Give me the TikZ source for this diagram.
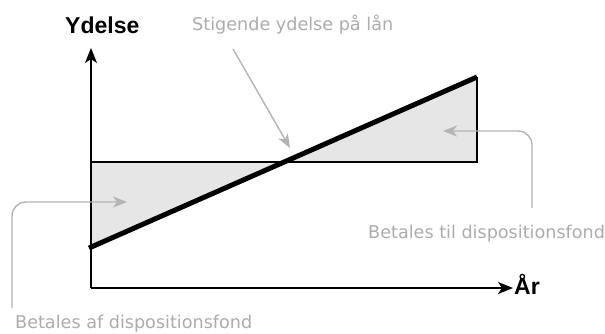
\documentclass[tikz,border=0pt]{standalone}
\usepackage{fontspec}
\setmainfont{Liberation Sans}
\newfontfamily\notefont{DejaVu Sans}
\usetikzlibrary{arrows.meta}
\definecolor{notegray}{RGB}{172,172,172}
\definecolor{arrowgray}{RGB}{180,180,180}
\definecolor{areagray}{RGB}{230,230,230}
\tikzset{
  axislabel/.style={inner sep=0pt, font=\fontsize{23}{25}\selectfont\bfseries, text=black},
  notelabel/.style={inner sep=0pt, font=\notefont\fontsize{17.6}{20}\selectfont, text=notegray},
  axisline/.style={line width=1.5pt, -{Stealth[length=15pt,width=12pt,inset=4pt]}},
  noteline/.style={draw=arrowgray, line width=1.4pt, rounded corners=14pt, -{Stealth[length=14pt,width=11pt,inset=4pt]}},
  boxline/.style={line width=1.5pt},
}
\begin{document}
\begin{tikzpicture}[x=1pt,y=-1pt]
\useasboundingbox (0,0) rectangle (605,333);
% shaded areas
\fill[areagray] (91,162) -- (284,162) -- (91,247) -- cycle;
\fill[areagray] (284,162) -- (477,77) -- (477,162) -- cycle;
% coordinates
\coordinate (o) at (91,288);
\coordinate (ytip) at (91,48);
\coordinate (xtip) at (513,288);
\coordinate (rl) at (91,162);
\coordinate (rr) at (477,162);
\coordinate (rt) at (477,77);
\coordinate (ls) at (89,248);
\coordinate (le) at (477,77);
% rectangle lines
\draw[boxline] (rl) -- (rr) -- (rt);
% axes
\draw[axisline] (o) -- (ytip);
\draw[axisline] (o) -- (xtip);
% thick line
\draw[line width=5pt] (ls) -- (le);
% labels
\node[axislabel, anchor=base west] (ylab) at (65,33) {Ydelse};
\node[axislabel, anchor=base west] (xlab) at (514,294) {År};
\node[notelabel, anchor=base west] (stig) at (192,30) {Stigende ydelse på lån};
\node[notelabel, anchor=base west] (til) at (368,238) {Betales til dispositionsfond};
\node[notelabel, anchor=base west] (af) at (15,328) {Betales af dispositionsfond};
% note arrows
\coordinate (s1) at (233,49);
\coordinate (t1) at (290,148);
\coordinate (s2) at (532,208);
\coordinate (t2) at (443,131);
\coordinate (s3) at (12,308);
\coordinate (t3) at (127,202);
\draw[noteline] (s1) -- (t1);
\draw[noteline] (s2) |- (t2);
\draw[noteline] (s3) |- (t3);
\end{tikzpicture}
\end{document}
